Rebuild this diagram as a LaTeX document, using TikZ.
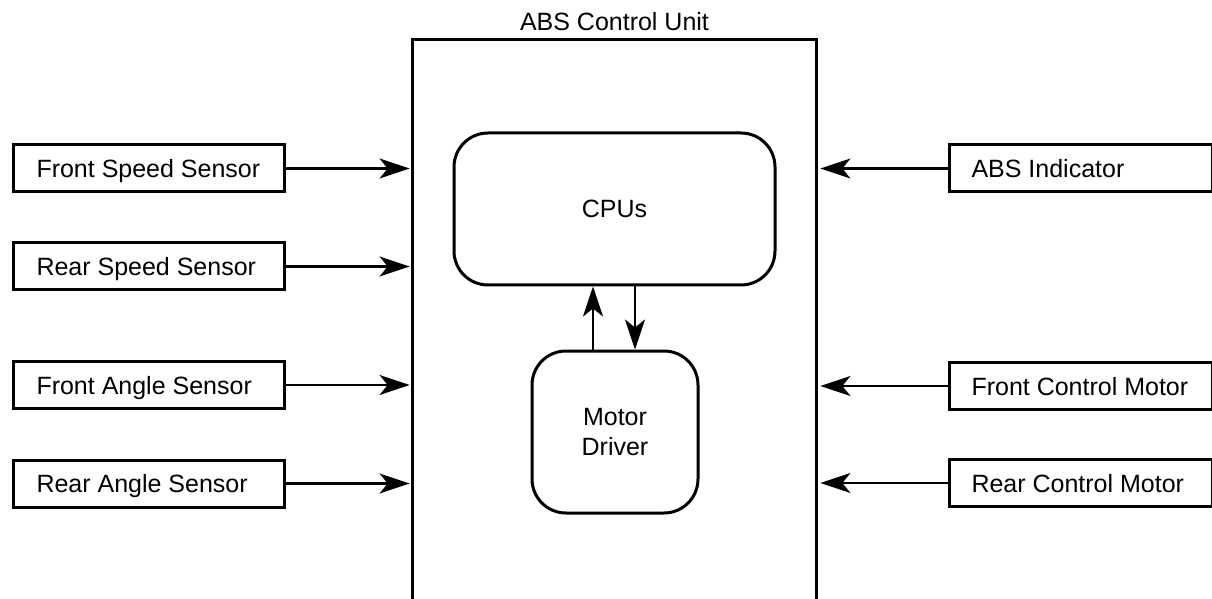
\documentclass[tikz,border=0pt]{standalone}
\usepackage{fontspec}
\setmainfont{Liberation Sans}
\usetikzlibrary{arrows.meta}
\newcommand\lefttext[2]{\makebox[#1][l]{#2}}
\begin{document}
\begin{tikzpicture}[x=0.5pt,y=-0.5pt,
  font=\fontsize{12.5}{15}\selectfont,
  boxline/.style={line width=1.5pt},
  inbox/.style={draw, boxline, anchor=west, minimum height=23.5pt, text height=9pt, text depth=0pt, inner xsep=11.5pt},
  outbox/.style={draw, boxline, anchor=west, minimum height=23.5pt, text height=9pt, text depth=0pt, inner xsep=11pt},
  roundbox/.style={draw, boxline, rounded corners=17pt, align=center},
  conn/.style={line width=1.1pt, -{Stealth[length=15pt,width=10pt,inset=4pt]}}
]
\useasboundingbox (0,0) rectangle (1212,599);
\clip (0,0) rectangle (1212,599);

% main unit
\node[minimum width=201.5pt, minimum height=310pt, inner sep=0pt] (abs) at (614.5,350) {};
\draw[boxline] (abs.south west) -- (abs.north west) -- (abs.north east) -- (abs.south east);
\node (title) at (614.5,22) {ABS Control Unit};

% inner blocks
\node[roundbox, minimum width=160.5pt, minimum height=76pt] (cpu) at (614.5,209) {CPUs};
\node[roundbox, minimum width=83pt, minimum height=81pt] (mot) at (615,432) {Motor\\Driver};

% left inputs
\node[inbox] (fss) at (12,168.5) {\lefttext{112.5pt}{Front Speed Sensor}};
\node[inbox] (rss) at (12,266.5) {\lefttext{112.5pt}{Rear Speed Sensor}};
\node[inbox] (fas) at (12,385) {\lefttext{112.5pt}{Front Angle Sensor}};
\node[inbox] (ras) at (12,483.5) {\lefttext{112.5pt}{Rear Angle Sensor}};

% right inputs
\node[outbox] (ind) at (948,168.5) {\lefttext{109.5pt}{ABS Indicator}};
\node[outbox] (fcm) at (948,386) {\lefttext{109.5pt}{Front Control Motor}};
\node[outbox] (rcm) at (948,483) {\lefttext{109.5pt}{Rear Control Motor}};

\foreach \n in {fss,rss,fas,ras}
  \draw[conn, shorten >=1.5pt] (\n.east) -- (abs.west |- \n.east);
\foreach \n in {ind,fcm,rcm}
  \draw[conn, shorten >=2pt] (\n.west) -- (abs.east |- \n.west);

\draw[conn] ([xshift=-11pt]mot.north) -- ([xshift=-11pt]mot.north |- cpu.south);
\draw[conn] ([xshift=10pt]mot.north |- cpu.south) -- ([xshift=10pt]mot.north);
\end{tikzpicture}
\end{document}
